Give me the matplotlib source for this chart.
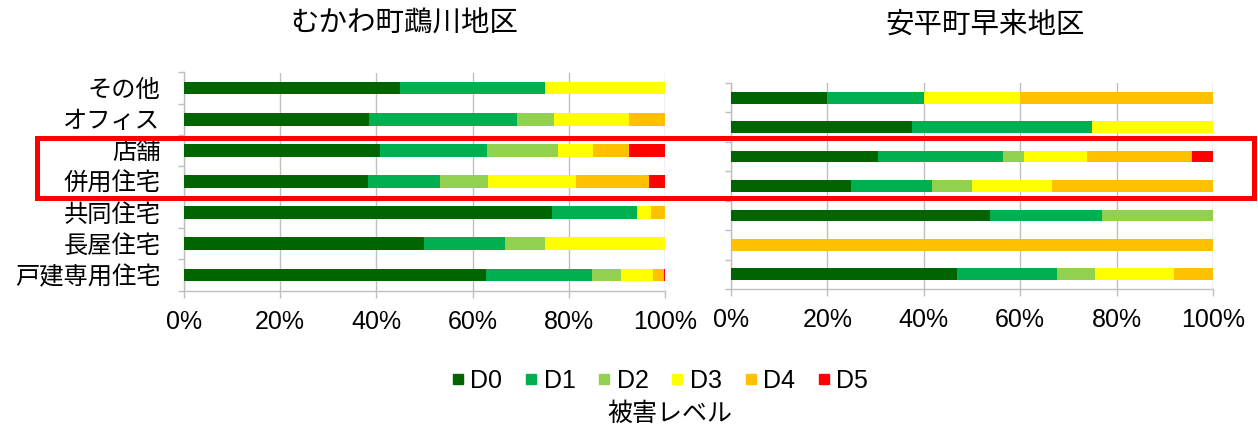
import matplotlib
matplotlib.use("Agg")
import matplotlib.pyplot as plt
from matplotlib.lines import Line2D
from matplotlib.patches import Rectangle
import numpy as np

plt.rcParams['font.family'] = ['Liberation Sans', 'Noto Sans CJK JP', 'DejaVu Sans']

categories = ["その他", "オフィス", "店舗", "併用住宅", "共同住宅", "長屋住宅", "戸建専用住宅"]
levels = ["D0", "D1", "D2", "D3", "D4", "D5"]
colors = ["#006400", "#00B050", "#92D050", "#FFFF00", "#FFC000", "#FF0000"]
xticks = [0, 20, 40, 60, 80, 100]
xticklabels = ["0%", "20%", "40%", "60%", "80%", "100%"]

title_left = "むかわ町鵡川地区"
title_right = "安平町早来地区"
legend_title = "被害レベル"

# percentages per category (rows, top to bottom), columns D0..D5
mukawa_D0 = [45.0, 38.5, 40.7, 38.3, 76.5, 50.0, 62.7]
mukawa_D1 = [30.0, 30.8, 22.2, 15.0, 17.7, 16.7, 22.2]
mukawa_D2 = [0.0, 7.6, 14.8, 10.0, 0.0, 8.3, 6.0]
mukawa_D3 = [25.0, 15.6, 7.4, 18.3, 2.8, 25.0, 6.6]
mukawa_D4 = [0.0, 7.5, 7.5, 15.1, 3.0, 0.0, 2.2]
mukawa_D5 = [0.0, 0.0, 7.4, 3.3, 0.0, 0.0, 0.3]

abira_D0 = [20.0, 37.5, 30.4, 25.0, 53.8, 0.0, 46.9]
abira_D1 = [20.0, 37.5, 26.1, 16.7, 23.1, 0.0, 20.7]
abira_D2 = [0.0, 0.0, 4.3, 8.3, 23.1, 0.0, 8.0]
abira_D3 = [20.0, 25.0, 13.0, 16.7, 0.0, 0.0, 16.4]
abira_D4 = [40.0, 0.0, 21.8, 33.3, 0.0, 100.0, 8.0]
abira_D5 = [0.0, 0.0, 4.4, 0.0, 0.0, 0.0, 0.0]

W, H = 1258, 428
fig = plt.figure(figsize=(W / 100, H / 100), dpi=100)
fig.patch.set_facecolor("white")

def px_axes(x0, x1, ytop, ybot):
    return fig.add_axes([x0 / W, 1 - ybot / H, (x1 - x0) / W, (ybot - ytop) / H])

ax_l = px_axes(184, 665, 72.5, 290.5)
ax_r = px_axes(731, 1213, 83, 289)

grid_c = "#BFBFBF"

def draw(ax, series, show_labels, bar_h):
    y = np.arange(len(categories))
    left = np.zeros(len(categories))
    for vals, col in zip(series, colors):
        v = np.array(vals)
        ax.barh(y, v, left=left, height=bar_h, color=col, zorder=3, linewidth=0)
        left += v
    ax.set_xlim(0, 100)
    ax.set_ylim(len(categories) - 0.5, -0.5)
    ax.set_xticks(xticks)
    ax.set_xticklabels(xticklabels, fontsize=18)
    ax.grid(axis="x", color=grid_c, linewidth=1.0, zorder=0)
    ax.set_axisbelow(True)
    ax.set_yticks(y)
    if show_labels:
        ax.set_yticklabels(categories, fontsize=17.5)
    else:
        ax.set_yticklabels([])
    ax.set_yticks(np.arange(-0.5, len(categories) + 0.5, 1), minor=True)
    ax.tick_params(axis="y", which="major", length=0, pad=17)
    ax.tick_params(axis="y", which="minor", length=4, color=grid_c, width=1)
    ax.tick_params(axis="x", which="major", length=5, color=grid_c, width=1, pad=9)
    for s in ["top", "right"]:
        ax.spines[s].set_visible(False)
    for s in ["left", "bottom"]:
        ax.spines[s].set_color(grid_c)
        ax.spines[s].set_linewidth(1.0)

draw(ax_l, [mukawa_D0, mukawa_D1, mukawa_D2, mukawa_D3, mukawa_D4, mukawa_D5], True, 0.41)
draw(ax_r, [abira_D0, abira_D1, abira_D2, abira_D3, abira_D4, abira_D5], False, 0.40)

fig.text(404 / W, 1 - 25 / H, title_left, ha="center", va="center", fontsize=20.5)
fig.text(985 / W, 1 - 25 / H, title_right, ha="center", va="center", fontsize=20.5)

handles = [Line2D([], [], marker="s", linestyle="none", markersize=6.5,
                  markerfacecolor=c, markeredgecolor=c) for c in colors]
fig.legend(handles, levels, loc="center", bbox_to_anchor=(660 / W, 1 - 381 / H),
           ncol=6, frameon=False, fontsize=18, handlelength=0.5, handletextpad=0.25,
           columnspacing=0.9, borderpad=0)
fig.text(670 / W, 1 - 414 / H, legend_title, ha="center", va="center", fontsize=18)

rect = Rectangle((37 / W, 1 - 197.5 / H), (1254 - 37) / W, 60 / H,
                 transform=fig.transFigure, fill=False, edgecolor="#FF0000",
                 linewidth=3.6, zorder=10)
fig.patches.append(rect)

fig.savefig("out.png", dpi=100, facecolor="white")
